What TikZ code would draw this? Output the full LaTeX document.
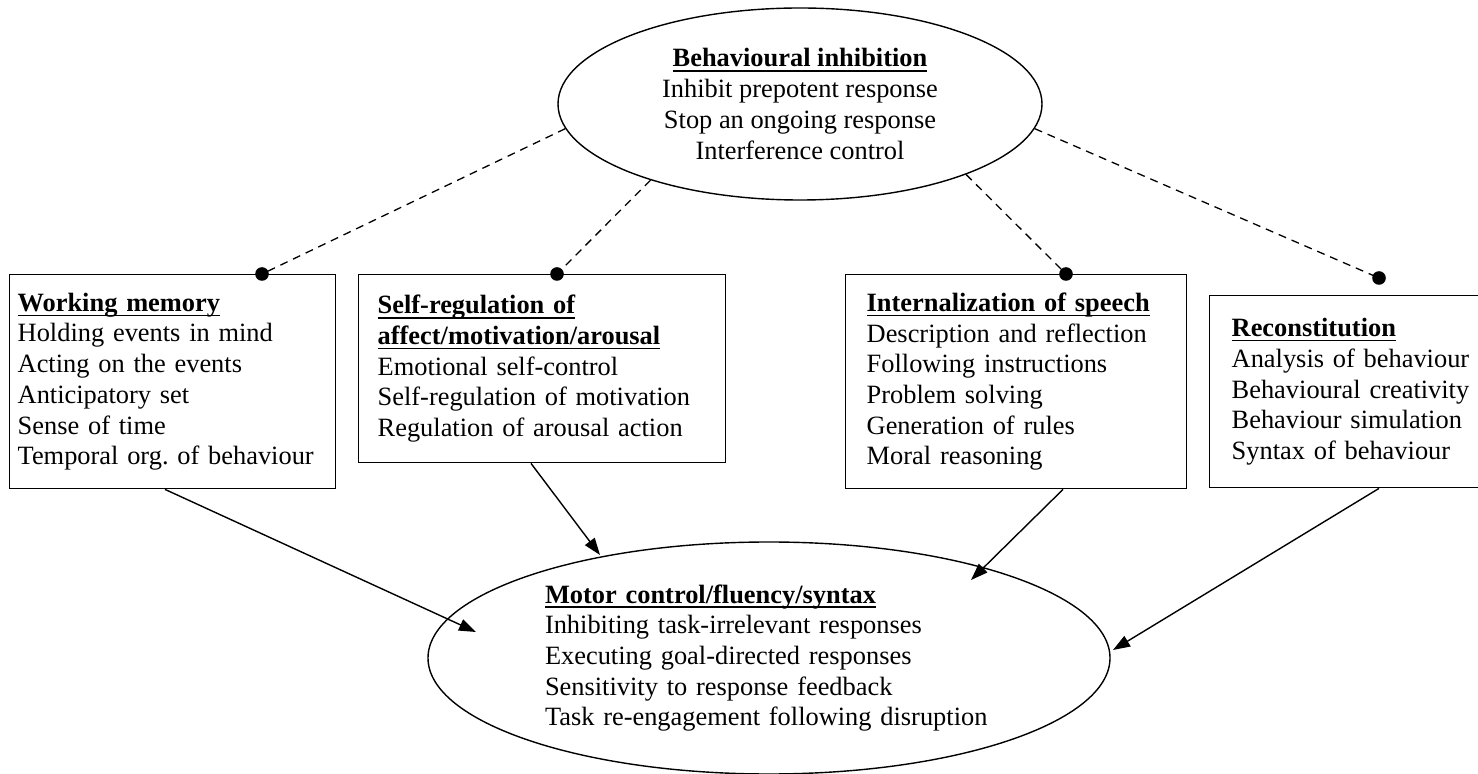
\documentclass[tikz,border=0pt]{standalone}
\usepackage{fontspec}
\setmainfont{Liberation Serif}
\usetikzlibrary{shapes,arrows.meta,positioning}
\frenchspacing

\newsavebox{\headbox}
\newcommand{\boxhead}[1]{\leavevmode\sbox{\headbox}{\textbf{#1}}%
  \rlap{\rule[-2.4pt]{\wd\headbox}{0.7pt}}\usebox{\headbox}}

\tikzstyle{block} = [draw, rectangle, line width=0.7pt, anchor=north west,
    align=left, inner ysep=0pt, font=\fontsize{13.2}{15.35}\selectfont]
\tikzstyle{oval} = [draw, ellipse, line width=0.7pt, inner sep=0pt,
    font=\fontsize{13.2}{15.35}\selectfont]
\tikzstyle{dotmark} = [circle, fill=black, inner sep=0pt, minimum size=6.8pt]
\tikzstyle{dashlink} = [dash pattern=on 4pt off 3pt, line width=0.65pt]
\tikzstyle{arrowline} = [-{Triangle[length=8.5pt,width=6pt]}, line width=0.7pt]

\begin{document}
\begin{tikzpicture}[x=0.5pt,y=-0.5pt]
  \useasboundingbox (0,0) rectangle (1478,774);

  % the two ovals
  \node [oval, minimum width=242pt, minimum height=96pt, align=center] (inhib) at (800,104)
    {\boxhead{Behavioural inhibition}\\Inhibit prepotent response\\Stop an ongoing response\\Interference control};
  \node [oval, minimum width=341pt, minimum height=116pt, align=left, text width=224pt] (motor) at (769,658)
    {\boxhead{Motor control/fluency/syntax}\\Inhibiting task-irrelevant responses\\Executing goal-directed responses\\Sensitivity to response feedback\\Task re-engagement following disruption};

  % the four boxes
  \node [block, minimum width=163pt, minimum height=107pt, text width=155pt, inner xsep=4pt] (wm) at (9,274)
    {\boxhead{Working memory}\\Holding events in mind\\Acting on the events\\Anticipatory set\\Sense of time\\Temporal org. of behaviour};
  \node [block, minimum width=183.5pt, minimum height=94pt, text width=164.5pt, inner xsep=9.5pt] (selfreg) at (358,274)
    {\boxhead{Self-regulation of}\\\boxhead{affect/motivation/arousal}\\Emotional self-control\\Self-regulation of motivation\\Regulation of arousal action};
  \node [block, minimum width=170.5pt, minimum height=107pt, text width=149.5pt, inner xsep=10.5pt] (speech) at (845,274)
    {\boxhead{Internalization of speech}\\Description and reflection\\Following instructions\\Problem solving\\Generation of rules\\Moral reasoning};
  \node [block, minimum width=145pt, minimum height=96pt, text width=123pt, inner xsep=11pt] (recon) at (1209,295)
    {\boxhead{Reconstitution}\\Analysis of behaviour\\Behavioural creativity\\Behaviour simulation\\Syntax of behaviour};

  % dots
  \node [dotmark] (wmdot) at (262,274) {};
  \node [dotmark] (srdot) at (557,274) {};
  \node [dotmark] (spdot) at (1066,274) {};
  \node [dotmark] (rcdot) at (1379,278) {};

  \draw [dashlink] (inhib.186) -- (wmdot.center);
  \draw [dashlink] (inhib.207) -- (srdot.center);
  \draw [dashlink] (inhib.337) -- (spdot.center);
  \draw [dashlink] (inhib.354) -- (rcdot.center);

  % arrows into motor control
  \coordinate (tipwm) at (476,632);
  \coordinate (tipsr) at (600,555);
  \coordinate (tipsp) at (971,580);
  \coordinate (tiprc) at (1113,650);

  \draw [arrowline] ([xshift=78pt]wm.south west) -- (tipwm);
  \draw [arrowline] ([xshift=86.5pt]selfreg.south west) -- (tipsr);
  \draw [arrowline] ([xshift=109pt]speech.south west) -- (tipsp);
  \draw [arrowline] ([xshift=85pt]recon.south west) -- (tiprc);

\end{tikzpicture}
\end{document}
